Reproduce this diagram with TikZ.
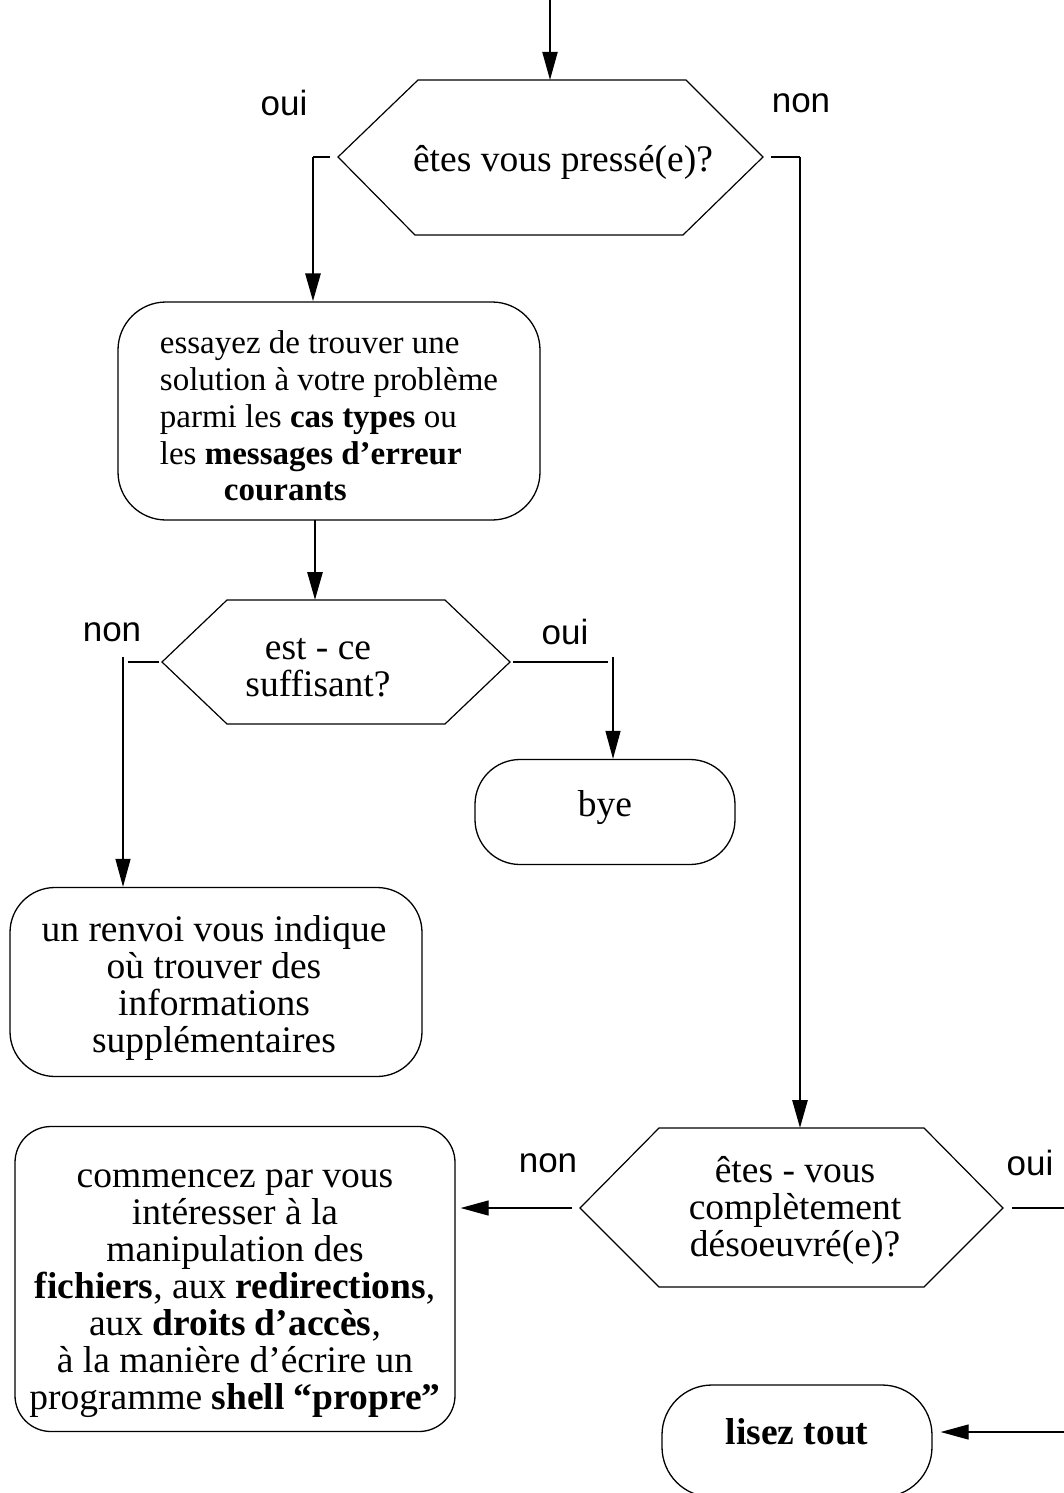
\documentclass[tikz,border=0pt]{standalone}
\usepackage{fontspec}
\setmainfont{Liberation Serif}
\newfontfamily\labelfont{Liberation Sans}
\usetikzlibrary{arrows.meta}
\begin{document}
\begin{tikzpicture}[x=1pt,y=-1pt,
  thinline/.style={line width=1.3pt},
  boldline/.style={line width=2.8pt},
  midline/.style={line width=2pt},
  arr/.style={-{Triangle[length=28pt,width=15pt]}},
  outline/.style={line width=1.2pt, line join=miter},
  box/.style={draw, line width=1.3pt, rounded corners=48pt, inner sep=0pt, align=center},
  qtext/.style={font=\fontsize{37.5}{37}\selectfont, align=center, inner sep=0pt},
  btext/.style={font=\fontsize{37.5}{37}\selectfont, align=center, inner sep=0pt},
  lab/.style={font=\labelfont\fontsize{35}{40}\selectfont, inner sep=0pt}
]
\useasboundingbox (0,0) rectangle (1064,1493);
\clip (0,0) rectangle (1064,1493);

% --- first question
\coordinate (q1w) at (338,157);
\coordinate (q1e) at (763,157);
\coordinate (q1n) at (550,80);
\draw[outline] (q1w) -- (418,80) -- (686,80) -- (q1e) -- (683,235) -- (415,235) -- cycle;
\node[qtext] (q1) at (563,162) {êtes vous pressé(e)?};
\node[lab] (oui1) at (284,103) {oui};
\node[lab] (non1) at (801,103) {non};

% --- boxes (frames)
\node[box, minimum width=422pt, minimum height=218pt] (b1) at (329,411) {};
\node[box, minimum width=260pt, minimum height=105pt, rounded corners=45pt] (bye) at (605,812) {};
\node[box, minimum width=412pt, minimum height=189pt, rounded corners=45pt] (renvoi) at (216,982) {};
\node[box, minimum width=440pt, minimum height=305pt, rounded corners=36pt] (debut) at (235,1279) {};
\node[box, minimum width=270pt, minimum height=112pt, rounded corners=50pt] (tout) at (797,1441) {};

% --- box texts
\node[inner sep=0pt, align=left, font=\fontsize{33}{36.75}\selectfont]
  (b1t) at (329,416) {essayez de trouver une\\ solution à votre problème\\ parmi les \textbf{cas types} ou\\
  les \textbf{messages d’erreur}\\ \hspace*{64pt}\textbf{courants}};
\node[btext] (byet) at (605,808) {bye};
\node[btext] (renvoit) at (214,988) {un renvoi vous indique\\ où trouver des\\ informations\\ supplémentaires};
\node[btext] (debutt) at (235,1294) {commencez par vous\\ intéresser à la\\ manipulation des\\
  \textbf{fichiers}, aux \textbf{redirections},\\ aux \textbf{droits d’accès},\\
  à la manière d’écrire un\\ programme \textbf{shell “propre”}};
\node[btext] (toutt) at (797,1432) {\textbf{lisez tout}};

% --- second question
\coordinate (q2w) at (162,662);
\coordinate (q2e) at (510,662);
\coordinate (q2n) at (315,600);
\draw[outline] (q2w) -- (227,600) -- (445,600) -- (q2e) -- (445,724) -- (227,724) -- cycle;
\node[qtext] (q2) at (318,668) {est - ce\\ suffisant?};
\node[lab] (non2) at (112,632) {non};
\node[lab] (oui2) at (565,632) {oui};

% --- third question
\coordinate (q3w) at (580,1208);
\coordinate (q3e) at (1003,1208);
\coordinate (q3n) at (800,1128);
\draw[outline] (q3w) -- (659,1128) -- (924,1128) -- (q3e) -- (924,1287) -- (659,1287) -- cycle;
\node[qtext] (q3) at (795,1210) {êtes - vous\\ complètement\\ désoeuvré(e)?};
\node[lab] (non3) at (548,1163) {non};
\node[lab] (oui3) at (1030,1163) {oui};

% --- connectors
\coordinate (entree) at (550,-5);
\draw[midline, arr] (entree) -- (q1n);

\coordinate (c1) at (313,157);
\draw[boldline] ([xshift=-8pt]q1w) -- (c1);
\draw[boldline, arr] (c1) -- (c1 |- b1.north);

\coordinate (c2) at (800,157);
\draw[boldline] ([xshift=8pt]q1e) -- (c2);
\draw[boldline, arr] (c2) -- (q3n);

\coordinate (c3) at (315,520);
\draw[boldline, arr] (c3) -- (q2n);

\coordinate (c4) at (123,662);
\draw[boldline] ([xshift=-3pt]q2w) -- ([xshift=5pt]c4);
\draw[thinline, arr] ([yshift=5pt]c4) -- (c4 |- renvoi.north);

\coordinate (c5) at (613,662);
\draw[thinline] ([xshift=3pt]q2e) -- ([xshift=-5pt]c5);
\draw[thinline, arr] ([yshift=5pt]c5) -- (c5 |- bye.north);

\draw[thinline, arr] ([xshift=-8pt]q3w) -- ([xshift=5pt]debut.east |- q3w);

\coordinate (c6) at (1100,1208);
\draw[thinline] ([xshift=9pt]q3e) -- (c6);
\draw[thinline, arr] (c6 |- toutt) -- ([xshift=8pt]tout.east |- toutt);
\end{tikzpicture}
\end{document}
